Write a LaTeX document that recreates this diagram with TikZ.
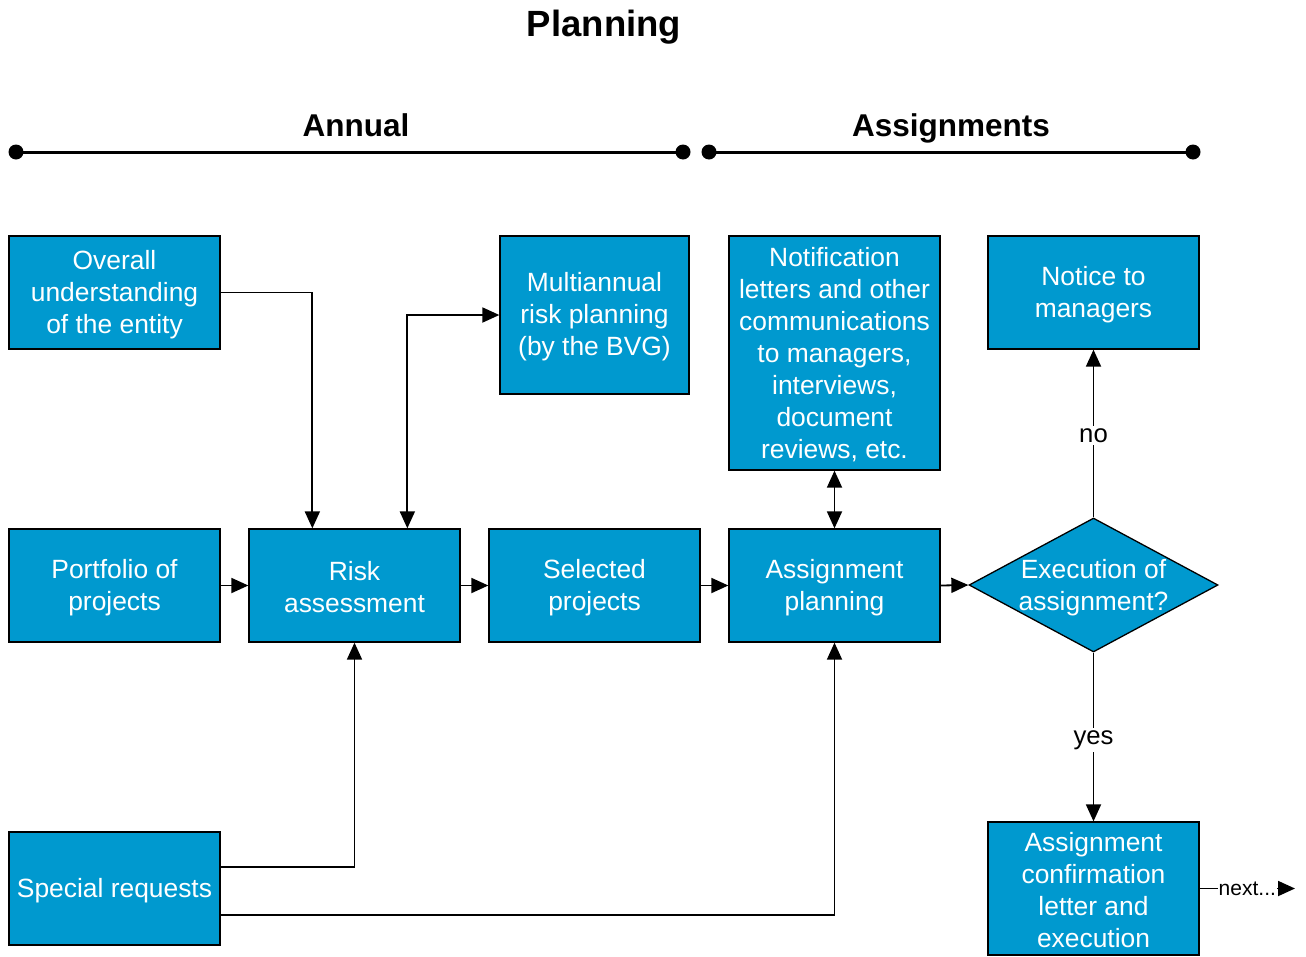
\documentclass[tikz,border=0pt]{standalone}
\usepackage{fontspec}
\setmainfont{Liberation Sans}
\usetikzlibrary{shapes.geometric,arrows.meta}
\definecolor{boxblue}{RGB}{0,153,207}
\newcommand\dn[1]{\raisebox{-2pt}[\height][\depth]{#1}}
\newcommand\dnn[1]{\raisebox{-3pt}[\height][\depth]{#1}}
\tikzset{
  boxtext/.style={text=white, font=\fontsize{26.4}{32}\selectfont, align=center},
  box/.style={boxtext, draw=black, line width=1.3pt, fill=boxblue, inner sep=0pt,
    minimum width=211pt, minimum height=113pt},
  conn/.style={line width=1.8pt},
  arr/.style={conn, -{Triangle[length=17pt,width=15pt]}},
  darr/.style={conn, {Triangle[length=17pt,width=15pt]}-{Triangle[length=17pt,width=15pt]}},
  head/.style={anchor=base, font=\fontsize{31.5}{36}\selectfont\bfseries},
  lbl/.style={fill=white, inner sep=2pt, font=\fontsize{25.7}{30}\selectfont},
  tl/.style={line width=3pt},
  dot/.style={circle, fill=black, inner sep=0pt, minimum size=15pt}
}
\begin{document}
\begin{tikzpicture}[x=1pt,y=-1pt]
\useasboundingbox (0,0) rectangle (1306,956);
% title and headings
\node[anchor=base, font=\fontsize{36.5}{40}\selectfont\bfseries] (title) at (604,36) {Planning};
\node[head] (annual) at (356,136.5) {Annual};
\node[head] (assign) at (951,136.5) {Assignments};
% timelines
\node[dot] (a1) at (16,152) {};
\node[dot] (a2) at (683,152) {};
\node[dot] (b1) at (709,152) {};
\node[dot] (b2) at (1193,152) {};
\draw[tl] (a1.center) -- (a2.center);
\draw[tl] (b1.center) -- (b2.center);
% boxes
\node[box] (overall) at (114.5,292.5) {\dn{Overall}\\\dn{understanding}\\\dn{of the entity}};
\node[box, minimum width=189pt, minimum height=158pt] (multi) at (594.5,315) {\dn{Multiannual}\\\dn{risk planning}\\\dn{(by the BVG)}};
\node[box, minimum height=234pt] (notif) at (834.5,353) {\dn{Notification}\\\dn{letters and other}\\\dn{communications}\\\dn{to managers,}\\\dn{interviews,}\\\dn{document}\\\dn{reviews, etc.}};
\node[box] (notice) at (1093.5,292.5) {\dn{Notice to}\\\dn{managers}};
\node[box] (portfolio) at (114.5,585.5) {\dn{Portfolio of}\\\dn{projects}};
\node[box] (risk) at (354.5,585.5) {\dn{Risk}\\\dn{assessment}};
\node[box] (selected) at (594.5,585.5) {\dn{Selected}\\\dn{projects}};
\node[box] (plan) at (834.5,585.5) {\dn{Assignment}\\\dn{planning}};
\node[diamond, draw=black, line width=1.3pt, fill=boxblue, inner sep=0pt,
      minimum width=249pt, minimum height=134pt] (exec) at (1093.5,585) {};
\node[boxtext, inner sep=0pt] (exectext) at (exec.center) {\dnn{Execution of}\\\dnn{assignment?}};
\node[box] (special) at (114.5,888.5) {\dn{Special requests}};
\node[box, minimum height=133pt] (conf) at (1093.5,888.5) {\dn{Assignment}\\\dn{confirmation}\\\dn{letter and}\\\dn{execution}};
\coordinate (nextend) at (1295,888.5);
% connectors
\draw[arr] (overall.east) -| ([xshift=64pt]risk.north west);
\draw[darr] ([xshift=159pt]risk.north west) |- (multi.west);
\draw[arr] (portfolio.east) -- (risk.west);
\draw[arr] (risk.east) -- (selected.west);
\draw[arr] (selected.east) -- (plan.west);
\draw[arr] (plan.east) -- (exec.west);
\draw[darr] (notif.south) -- (plan.north);
\draw[arr] (exec.north) -- node[lbl, yshift=-2pt] (no) {no} (notice.south);
\draw[arr] (exec.south) -- node[lbl, yshift=-3pt] (yes) {yes} (conf.north);
\draw[arr] ([yshift=21.5pt]special.east) -| (risk.south);
\draw[arr] ([yshift=-26.5pt]special.east) -| (plan.south);
\draw[arr] (conf.east) -- node[fill=white, inner sep=1pt, font=\fontsize{21}{24}\selectfont] (next) {next...} (nextend);
\end{tikzpicture}
\end{document}
